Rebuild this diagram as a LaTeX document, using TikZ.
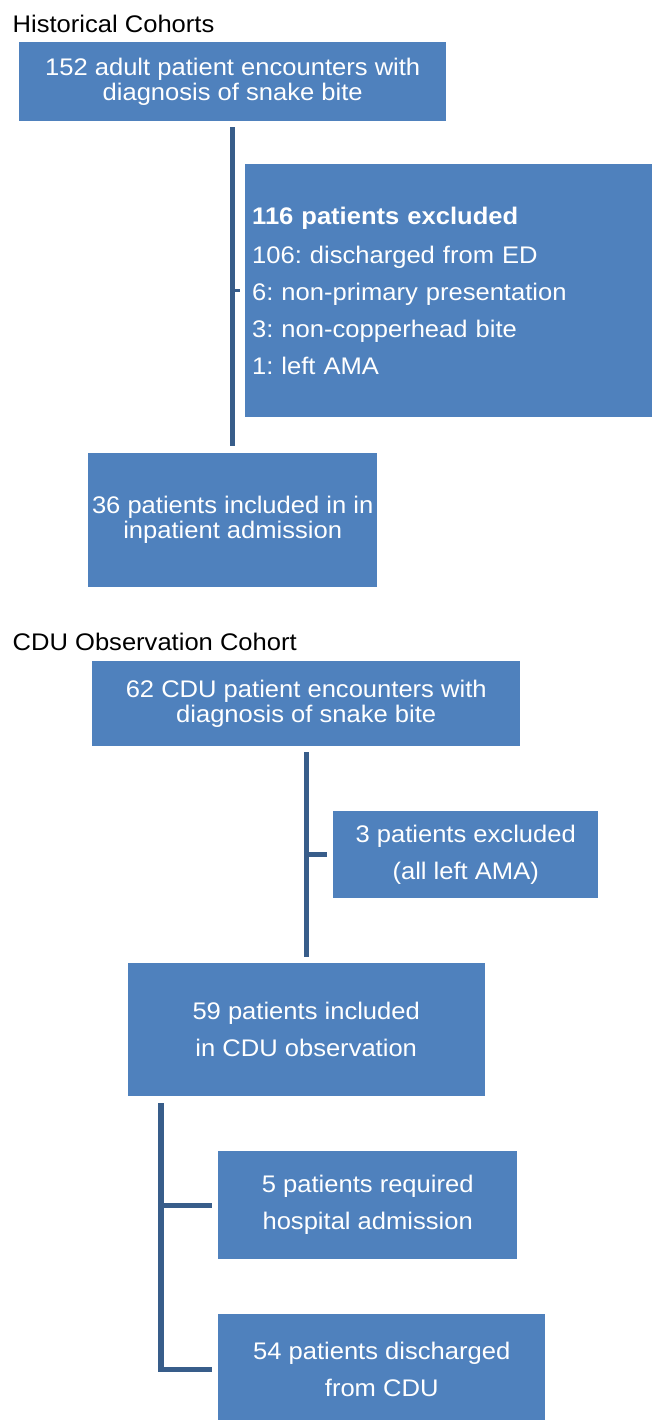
\documentclass[tikz,border=0pt]{standalone}
\usepackage{fontspec}
\setmainfont{Liberation Sans}[FakeStretch=1.065]
\usetikzlibrary{positioning}
\definecolor{boxfill}{RGB}{79,129,189}
\definecolor{boxline}{RGB}{56,93,138}
\frenchspacing

\begin{document}
\begin{tikzpicture}[
  x=1pt, y=-1pt,
  tight/.style={font=\fontsize{24}{25.7}\selectfont},
  loose/.style={font=\fontsize{24}{37}\selectfont},
  box/.style={fill=boxfill, text=white, inner sep=0pt, align=center, anchor=north west},
  heading/.style={font=\fontsize{24}{28}\selectfont, anchor=base west, inner sep=0pt},
  conn/.style={draw=boxline, line width=5.2pt},
]
\useasboundingbox (0,0) rectangle (651,1420);

% historical cohorts
\node[heading] (histtitle) at (12.5,33) {Historical Cohorts};
\node[box, tight, minimum width=427pt, minimum height=79pt] (hist) at (19,42)
  {152 adult patient encounters with\\diagnosis of snake bite};
\node[box, loose, align=left, text width=400pt, inner xsep=7pt, minimum height=253pt] (histex) at (245,164)
  {\textbf{116 patients excluded}\\[2.5pt]106: discharged from ED\\6: non-primary presentation\\3: non-copperhead bite\\1: left AMA};
\node[box, tight, minimum width=289pt, minimum height=134pt] (histin) at (88,452.7)
  {36 patients included in in\\inpatient admission};

\draw[conn] ([yshift=-6pt]hist.south) -- ([yshift=7pt]histin.north);
\draw[conn, line width=3pt] (hist.south |- histex.west) -- ([xshift=-5pt]histex.west);

% CDU observation cohort
\node[heading] (cdutitle) at (12.5,650) {CDU Observation Cohort};
\node[box, tight, minimum width=428pt, minimum height=85pt] (cdu) at (92,661)
  {62 CDU patient encounters with\\diagnosis of snake bite};
\node[box, loose, minimum width=265pt, minimum height=87pt] (cduex) at (333,811)
  {3 patients excluded\\(all left AMA)};
\node[box, loose, minimum width=357pt, minimum height=133pt] (obs) at (127.5,963)
  {59 patients included\\in CDU observation};
\node[box, loose, minimum width=299pt, minimum height=108pt] (adm) at (218,1151)
  {5 patients required\\hospital admission};
\node[box, loose, minimum width=327pt, minimum height=110pt] (dis) at (218,1314)
  {54 patients discharged\\from CDU};

\draw[conn] ([yshift=-6pt]cdu.south) -- ([yshift=6pt]obs.north);
\draw[conn] (cdu.south |- cduex.west) -- ([xshift=-6pt]cduex.west);

\coordinate (fork) at ([xshift=33.5pt,yshift=-7pt]obs.south west);
\draw[conn] (fork) |- ([xshift=-6pt]adm.west);
\draw[conn] (fork) |- ([xshift=-6pt]dis.west);
\end{tikzpicture}
\end{document}
